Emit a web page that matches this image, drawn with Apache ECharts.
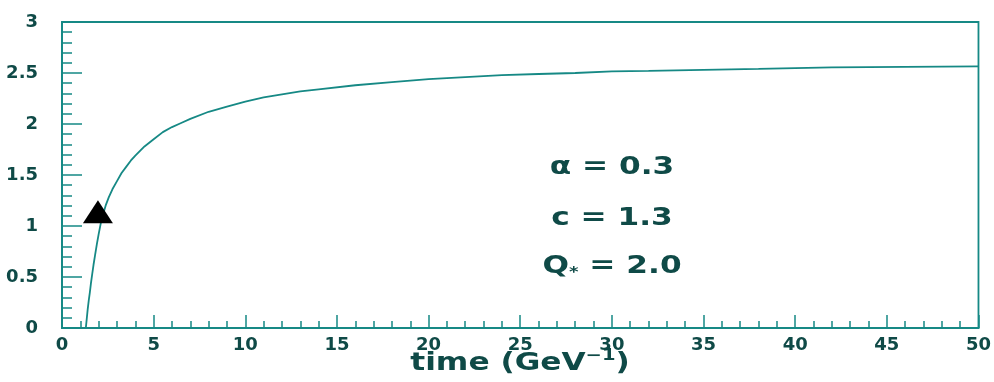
<!DOCTYPE html>
<html>
<head>
<meta charset="utf-8">
<script src="https://cdn.jsdelivr.net/npm/echarts@6/dist/echarts.min.js"></script>
<style>
  html, body { margin: 0; padding: 0; background: #ffffff; }
  #chart { width: 994px; height: 382px; }
</style>
</head>
<body>
<div id="chart"></div>
<script>
// Evolution curve versus time, with the starting marker and parameter values.
const timeValues = [1.30, 1.35, 1.40, 1.46, 1.52, 1.58, 1.65, 1.72, 1.80, 1.90, 2.00, 2.12, 2.25, 2.40, 2.55, 2.75, 3.00, 3.25, 3.50, 3.75, 4.00, 4.50, 5.00, 5.50, 6.00, 6.50, 7.00, 8.00, 9.00, 10.0, 11.0, 12.0, 13.0, 14.0, 16.0, 18.0, 20.0, 22.0, 24.0, 26.0, 28.0, 30.0, 32.0, 35.0, 38.0, 42.0, 46.0, 50.0];
const curveValues = [0.00, 0.09, 0.18, 0.27, 0.35, 0.44, 0.53, 0.62, 0.71, 0.82, 0.92, 1.03, 1.12, 1.21, 1.28, 1.36, 1.44, 1.52, 1.58, 1.64, 1.69, 1.78, 1.85, 1.92, 1.97, 2.01, 2.05, 2.12, 2.17, 2.22, 2.26, 2.29, 2.32, 2.34, 2.38, 2.41, 2.44, 2.46, 2.48, 2.49, 2.50, 2.515, 2.52, 2.53, 2.54, 2.555, 2.56, 2.565];
const markerTime = [1.96];
const markerValue = [1.14];
const paramLines = ['α = 0.3', 'c = 1.3', 'Q{sub|*} = 2.0'];
const axisTitle = ['time (GeV', '−1', ')'];

const LINE = '#168985';
const TEXT = '#0f4a47';
const FONT = 'DejaVu Sans';

const curve = timeValues.map((t, i) => [t, curveValues[i]]);
const marker = markerTime.map((t, i) => [t, markerValue[i]]);

const chart = echarts.init(document.getElementById('chart'), null, { renderer: 'canvas' });

const axisLabelStyle = { color: TEXT, fontFamily: FONT, fontWeight: 'bold', fontSize: 18 };
const annotationFont = 'bold 24px "DejaVu Sans"';

chart.setOption({
  animation: false,
  backgroundColor: '#ffffff',
  grid: {
    left: 62, right: 15, top: 22, bottom: 54,
    show: true, borderColor: LINE, borderWidth: 1.8, backgroundColor: 'transparent'
  },
  xAxis: {
    type: 'value', min: 0, max: 50, interval: 5,
    axisLine: { show: true, onZero: false, lineStyle: { color: LINE, width: 1.8 } },
    axisTick: { show: true, inside: true, length: 13, lineStyle: { color: LINE, width: 1.5 } },
    minorTick: { show: true, splitNumber: 5, length: 7, lineStyle: { color: LINE, width: 1.5 } },
    splitLine: { show: false },
    axisLabel: Object.assign({ margin: 8 }, axisLabelStyle)
  },
  yAxis: {
    type: 'value', min: 0, max: 3, interval: 0.5,
    axisLine: { show: true, onZero: false, lineStyle: { color: LINE, width: 1.8 } },
    axisTick: { show: true, inside: true, length: 20, lineStyle: { color: LINE, width: 1.5 } },
    minorTick: { show: true, splitNumber: 5, length: 10, lineStyle: { color: LINE, width: 1.5 } },
    splitLine: { show: false },
    axisLabel: Object.assign({ margin: 24 }, axisLabelStyle)
  },
  series: [
    {
      type: 'line',
      data: curve,
      showSymbol: false,
      smooth: false,
      lineStyle: { color: LINE, width: 1.8 },
      z: 3
    },
    {
      type: 'scatter',
      data: marker,
      symbol: 'triangle',
      symbolSize: [30, 23],
      itemStyle: { color: '#000000', opacity: 1 },
      z: 4
    }
  ],
  graphic: [
    {
      type: 'text', x: 612, y: 168, scaleX: 1.3,
      style: { text: paramLines[0], fill: TEXT, font: annotationFont, align: 'center', verticalAlign: 'middle' }
    },
    {
      type: 'text', x: 612, y: 219, scaleX: 1.3,
      style: { text: paramLines[1], fill: TEXT, font: annotationFont, align: 'center', verticalAlign: 'middle' }
    },
    {
      type: 'text', x: 612, y: 267, scaleX: 1.3,
      style: {
        text: paramLines[2], fill: TEXT, font: annotationFont,
        align: 'center', verticalAlign: 'middle',
        rich: { sub: { fontFamily: FONT, fontWeight: 'bold', fontSize: 14, fill: TEXT, verticalAlign: 'bottom', lineHeight: 14, padding: [8, 0, 0, 0] } }
      }
    },
    {
      type: 'text', x: 520, y: 364, scaleX: 1.3,
      style: {
        text: '{n|' + axisTitle[0] + '}{s|' + axisTitle[1] + '}{n|' + axisTitle[2] + '}',
        align: 'center', verticalAlign: 'middle',
        rich: {
          n: { fontFamily: FONT, fontWeight: 'bold', fontSize: 24, fill: TEXT, lineHeight: 30 },
          s: { fontFamily: FONT, fontWeight: 'bold', fontSize: 15, fill: TEXT, lineHeight: 15, verticalAlign: 'top' }
        }
      }
    }
  ]
});
</script>
</body>
</html>
